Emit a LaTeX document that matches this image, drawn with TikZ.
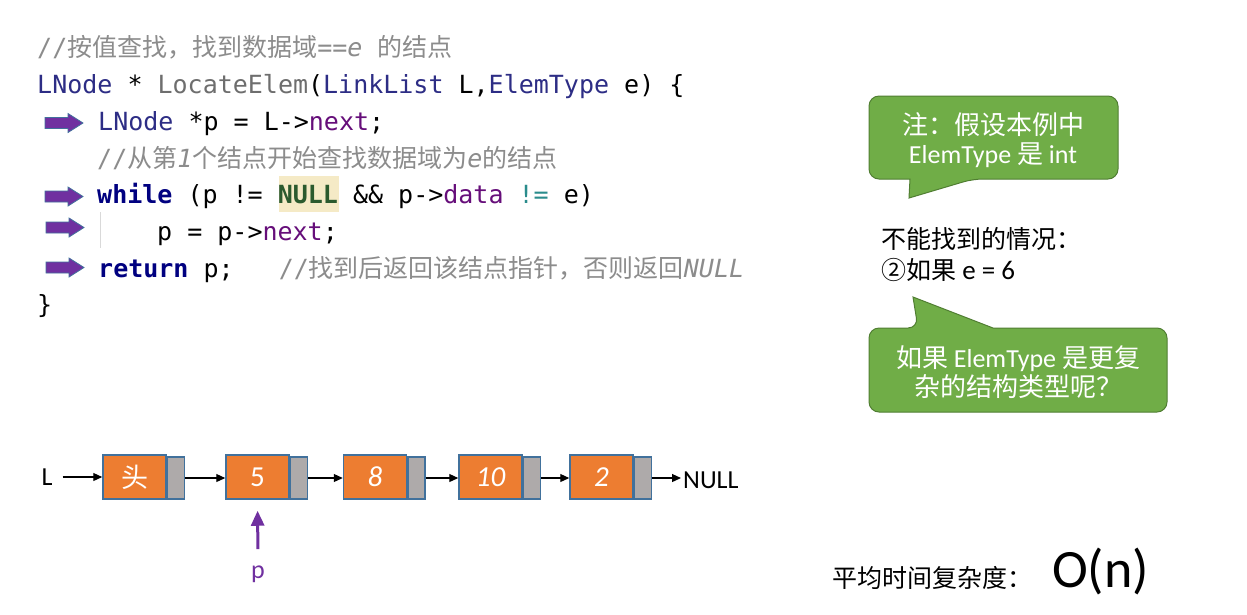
\documentclass[tikz,border=0pt]{standalone}
\usepackage{fontspec}
\usetikzlibrary{arrows.meta}
\newfontfamily\mono{DejaVu Sans Mono}
\newfontfamily\cjk{Noto Sans CJK SC}
\newfontfamily\carl{Carlito}
\definecolor{kw}{HTML}{000080}
\definecolor{ty}{HTML}{2D2D85}
\definecolor{fn}{HTML}{6E6E6E}
\definecolor{fld}{HTML}{660E7A}
\definecolor{cm}{HTML}{8C8C8C}
\definecolor{nul}{HTML}{2B5A2E}
\definecolor{tealop}{HTML}{2A8C8C}
\definecolor{hl}{HTML}{F5EAC6}
\definecolor{arrp}{HTML}{7030A0}
\definecolor{arrb}{HTML}{41719C}
\definecolor{org}{HTML}{ED7D31}
\definecolor{gry}{HTML}{AEAAAA}
\definecolor{grn}{HTML}{70AD47}
\definecolor{grnd}{HTML}{507E32}
\tikzset{
  code/.style={anchor=base west, inner sep=0pt, font=\mono\fontsize{25}{30}\selectfont},
  blockarrow/.pic={\draw[fill=arrp, draw=arrb, line width=0.8pt] (0,-5.5) -- (23,-5.5) -- (23,-9.5) -- (38,0) -- (23,9.5) -- (23,5.5) -- (0,5.5) -- cycle;},
  dat/.style={rectangle, draw=arrb, line width=1.5pt, fill=org, minimum width=63pt, minimum height=44pt, inner sep=0pt, text=white, font=\carl\fontsize{29}{30}\selectfont},
  ptr/.style={rectangle, draw=arrb, line width=1.5pt, fill=gry, minimum width=17pt, minimum height=42pt, inner sep=0pt},
  link/.style={-{Triangle[length=9pt,width=8pt]}, line width=1.2pt},
  txt/.style={inner sep=0pt, font=\carl\fontsize{26}{30}\selectfont},
  callout/.style={fill=grn, draw=grnd, line width=1pt},
  ctext/.style={align=center, text=white, inner sep=0pt, font=\carl\fontsize{26}{29}\selectfont}
}
\begin{document}
\begin{tikzpicture}[x=1pt, y=-1pt]
\useasboundingbox (0,0) rectangle (1247,614);
\fill[white] (0,0) rectangle (1247,614);
% code
\node[code] (l1) at (37,56) {{\color{cm}//{\cjk 按值查找，找到数据域}==\textit{e}~{\cjk 的结点}}};
\node[code] (l2) at (37,93) {{\color{ty}LNode}~*~{\color{fn}LocateElem}({\color{ty}LinkList}~L,{\color{ty}ElemType}~e)~\{};
\node[code] (l3) at (98,130) {{\color{ty}LNode}~*p~=~L->{\color{fld}next};};
\node[code] (l4) at (97,167) {{\color{cm}//{\cjk 从第}\textit{1}{\cjk 个结点开始查找数据域为}\textit{e}{\cjk 的结点}}};
\fill[hl] (279,176) rectangle (339,212);
\node[code] (l5) at (97,203) {{\bfseries\color{kw}while}~(p~!=~{\bfseries\color{nul}NULL}~\&\&~p->{\color{fld}data}~{\color{tealop}!=}~e)};
\draw[black!15, line width=1pt] (100,212) -- (100,248);
\node[code] (l6) at (157,240) {p~=~p->{\color{fld}next};};
\node[code] (l7) at (98,277) {{\bfseries\color{kw}return}~p;~~~{\color{cm}//{\cjk 找到后返回该结点指针，否则返回}\textit{NULL}}};
\node[code] (l8) at (37,313) {\}};
\pic at (45,123) {blockarrow};
\pic at (45,196.5) {blockarrow};
\pic at (46,227.5) {blockarrow};
\pic at (46,267.5) {blockarrow};
% linked list
\node[dat] (d0) at (134.5,477) {\cjk\fontsize{27}{30}\selectfont 头};
\node[ptr, anchor=south west] (p0) at (d0.south east) {};
\node[dat] (d1) at (257.5,477) {5};
\node[ptr, anchor=south west] (p1) at (d1.south east) {};
\node[dat] (d2) at (375,477) {\itshape 8};
\node[ptr, anchor=south west] (p2) at (d2.south east) {};
\node[dat] (d3) at (490.5,477) {\itshape 10};
\node[ptr, anchor=south west] (p3) at (d3.south east) {};
\node[dat] (d4) at (601.5,477) {\itshape 2};
\node[ptr, anchor=south west] (p4) at (d4.south east) {};
\node[txt] (L) at (47,477) {L};
\node[txt, anchor=west, inner sep=2pt] (null) at (681,480) {NULL};
\draw[link, shorten <=10pt] (L.east) -- (d0.west);
\draw[link] (p0.east) -- (p0.east -| d1.west);
\draw[link] (p1.east) -- (p1.east -| d2.west);
\draw[link] (p2.east) -- (p2.east -| d3.west);
\draw[link] (p3.east) -- (p3.east -| d4.west);
\draw[link] (p4.east) -- (p4.east -| null.west);
\node[txt, anchor=base, text=arrp] (pv) at (258,578) {p};
\draw[-{Triangle[length=15pt,width=13pt]}, line width=3pt, arrp, shorten <=16pt, shorten >=11pt] (pv.north) -- (d1.south);
% callouts
\draw[callout, rounded corners=10pt] (910,179) -- (869,179) -- (869,96) -- (1118,96) -- (1118,179) -- (973,179) [sharp corners] -- (909,198) -- cycle;
\node[ctext] (c1) at (993,140.5) {{\cjk 注：假设本例中}\\ElemType {\cjk 是} int};
\node[anchor=west, align=left, inner sep=0pt, font=\carl\fontsize{27}{31}\selectfont] (nf) at (881,254.5) {{\cjk\fontsize{25}{31}\selectfont 不能找到的情况：}\\{\cjk\fontsize{25}{31}\selectfont ②如果} e = 6};
\draw[callout, rounded corners=10pt] (993,328) -- (1167,328) -- (1167,412) -- (869,412) -- (869,328) -- (918,328) [sharp corners] -- (913,297) -- cycle;
\node[ctext] (c2) at (1018,372.5) {{\cjk 如果} ElemType {\cjk 是更复}\\{\cjk 杂的结构类型呢？}};
% complexity
\node[anchor=base west, inner sep=0pt, font=\cjk\fontsize{25}{30}\selectfont] (avg) at (832,587) {平均时间复杂度：};
\node[anchor=base west, inner sep=0pt, font=\carl\fontsize{54}{60}\selectfont] (on) at (1052,587) {O(n)};
\end{tikzpicture}
\end{document}
